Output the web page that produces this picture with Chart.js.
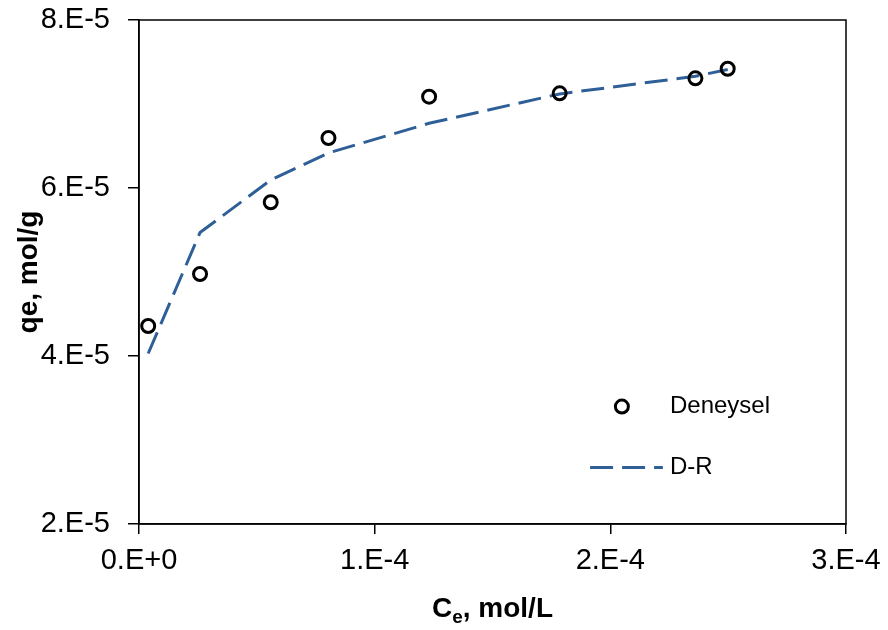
<!DOCTYPE html>
<html>
<head>
<meta charset="utf-8">
<title>D-R izoterm</title>
<script src="https://cdn.jsdelivr.net/npm/chart.js@4.4.1/dist/chart.umd.min.js"></script>
<style>
  body { margin: 0; background: #fff; }
  canvas { display: block; }
</style>
</head>
<body>
<canvas id="chart" width="888" height="630"></canvas>
<script>
// Data
var ceValues = [3.9e-6, 2.59e-5, 5.59e-5, 8.04e-5, 1.231e-4, 1.785e-4, 2.361e-4, 2.498e-4];
var qeDeneysel = [4.357e-5, 4.976e-5, 5.83e-5, 6.595e-5, 7.087e-5, 7.127e-5, 7.306e-5, 7.42e-5];
var qeDR = [4.03e-5, 5.47e-5, 6.095e-5, 6.417e-5, 6.77e-5, 7.12e-5, 7.33e-5, 7.41e-5];

// Axis ticks
var xTickValues = [0, 1e-4, 2e-4, 3e-4];
var xTickLabels = ['0.E+0', '1.E-4', '2.E-4', '3.E-4'];
var yTickValues = [2e-5, 4e-5, 6e-5, 8e-5];
var yTickLabels = ['2.E-5', '4.E-5', '6.E-5', '8.E-5'];

var lineColor = '#2F5F97';
var fontFamily = '"Liberation Sans", Arial, sans-serif';

function toPoints(xs, ys) {
    return xs.map(function (x, i) { return { x: x, y: ys[i] }; });
}

// Frame, legend and x title (with subscript) drawn on top
var extras = {
    id: 'extras',
    afterDraw: function (chart) {
        var ctx = chart.ctx;
        var a = chart.chartArea;
        var w = a.right - a.left;
        var h = a.bottom - a.top;
        ctx.save();

        // box around plot
        ctx.strokeStyle = '#000';
        ctx.lineWidth = 1.5;
        ctx.strokeRect(a.left, a.top, w, h);

        // legend
        ctx.font = '24px ' + fontFamily;
        ctx.fillStyle = '#000';
        ctx.textBaseline = 'middle';
        var cy1 = a.top + h * 0.767;
        var cy2 = a.top + h * 0.888;
        ctx.beginPath();
        ctx.arc(a.left + w * 0.683, cy1, 6.5, 0, Math.PI * 2);
        ctx.lineWidth = 3;
        ctx.strokeStyle = '#000';
        ctx.stroke();
        ctx.fillText('Deneysel', a.left + w * 0.751, cy1);

        ctx.beginPath();
        ctx.setLineDash([23, 9]);
        ctx.strokeStyle = lineColor;
        ctx.moveTo(a.left + w * 0.638, cy2);
        ctx.lineTo(a.left + w * 0.741, cy2);
        ctx.stroke();
        ctx.setLineDash([]);
        ctx.fillText('D-R', a.left + w * 0.751, cy2);

        // x axis title: C subscript e, mol/L
        ctx.textBaseline = 'alphabetic';
        var big = 'bold 28px ' + fontFamily;
        var small = 'bold 19px ' + fontFamily;
        ctx.font = big;
        var wC = ctx.measureText('C').width;
        var wRest = ctx.measureText(', mol/L').width;
        ctx.font = small;
        var wE = ctx.measureText('e').width;
        var x0 = (a.left + a.right) / 2 - (wC + wE + wRest) / 2;
        var base = 617;
        ctx.font = big;
        ctx.fillText('C', x0, base);
        ctx.font = small;
        ctx.fillText('e', x0 + wC, base + 6);
        ctx.font = big;
        ctx.fillText(', mol/L', x0 + wC + wE, base);
        ctx.restore();
    }
};

var ctx = document.getElementById('chart').getContext('2d');

var myChart = new Chart(ctx, {
    type: 'scatter',
    data: {
        datasets: [{
            label: 'Deneysel',
            data: toPoints(ceValues, qeDeneysel),
            showLine: false,
            pointStyle: 'circle',
            pointRadius: 6.5,
            pointBorderWidth: 3,
            pointBorderColor: '#000',
            pointBackgroundColor: 'rgba(255,255,255,0)'
        }, {
            label: 'D-R',
            data: toPoints(ceValues, qeDR),
            showLine: true,
            borderColor: lineColor,
            borderWidth: 3,
            borderDash: [23, 9],
            pointRadius: 0,
            tension: 0,
            fill: false
        }]
    },
    options: {
        responsive: false,
        animation: false,
        layout: { padding: { left: 0, right: 42, top: 20, bottom: 0 } },
        plugins: {
            legend: { display: false },
            tooltip: { enabled: false }
        },
        scales: {
            x: {
                type: 'linear',
                min: 0,
                max: 3e-4,
                afterBuildTicks: function (scale) {
                    scale.ticks = xTickValues.map(function (v) { return { value: v }; });
                },
                afterFit: function (scale) {
                    scale.height = 106;
                    scale.paddingLeft = 0;
                    scale.paddingRight = 0;
                },
                grid: { drawOnChartArea: false, drawTicks: true, tickLength: 10, color: '#000', lineWidth: 1.5 },
                border: { display: true, color: '#000', width: 1.5 },
                ticks: {
                    padding: 10,
                    color: '#000',
                    font: { family: fontFamily, size: 29 },
                    maxRotation: 0,
                    callback: function (value, index) { return xTickLabels[index]; }
                },
                title: { display: false }
            },
            y: {
                type: 'linear',
                min: 2e-5,
                max: 8e-5,
                afterBuildTicks: function (scale) {
                    scale.ticks = yTickValues.map(function (v) { return { value: v }; });
                },
                afterFit: function (scale) {
                    scale.width = 139;
                    scale.paddingTop = 0;
                    scale.paddingBottom = 0;
                },
                grid: { drawOnChartArea: false, drawTicks: true, tickLength: 11, color: '#000', lineWidth: 1.5 },
                border: { display: true, color: '#000', width: 1.5 },
                ticks: {
                    padding: 18,
                    color: '#000',
                    font: { family: fontFamily, size: 29 },
                    callback: function (value, index) { return yTickLabels[index]; }
                },
                title: {
                    display: true,
                    text: 'qe, mol/g',
                    color: '#000',
                    font: { family: fontFamily, size: 28, weight: 'bold' },
                    padding: { top: 12, bottom: 0 }
                }
            }
        }
    },
    plugins: [extras]
});
</script>
</body>
</html>
